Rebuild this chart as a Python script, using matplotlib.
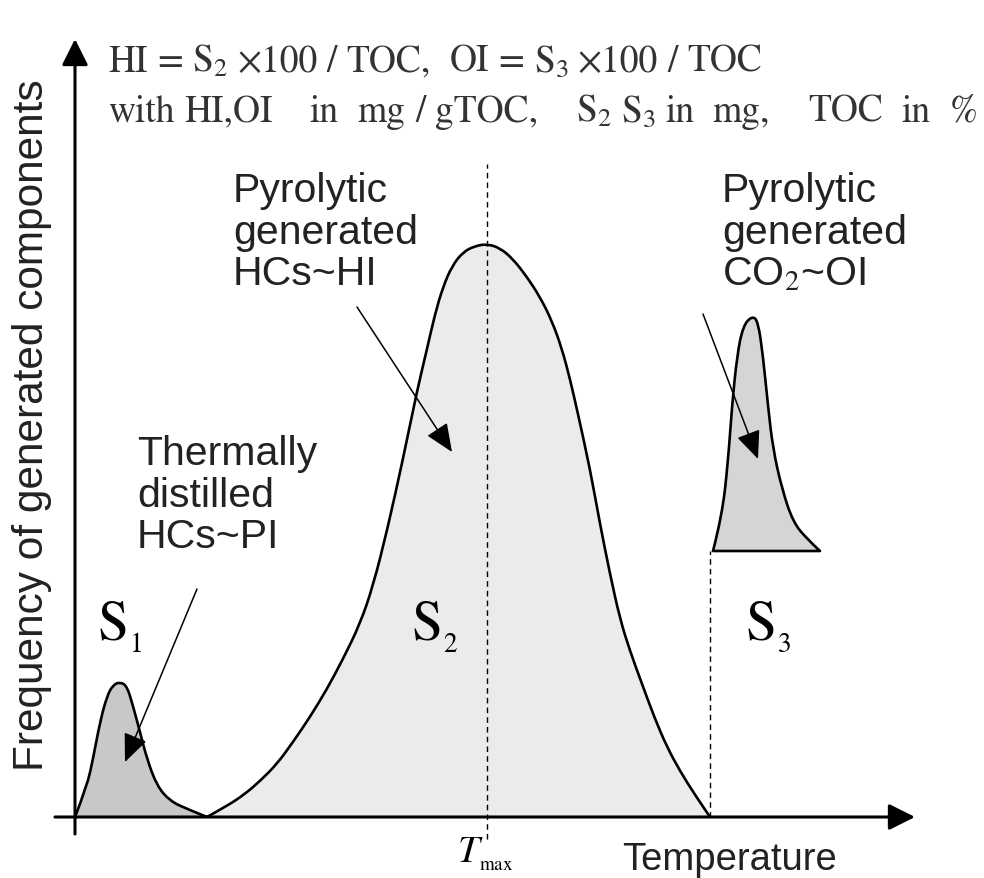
import matplotlib
matplotlib.use("Agg")
import matplotlib.pyplot as plt
from matplotlib.path import Path
from matplotlib.patches import PathPatch

plt.rcParams["mathtext.fontset"] = "stix"

# S1 peak (thermally distilled HCs)
s1_temp = [0, 12, 18, 25, 32, 38, 45, 52, 58, 65, 72, 82, 95, 112, 132]
s1_freq = [0, 31, 58, 95, 121, 132, 135, 131, 111, 85, 58, 31, 16, 8, 0]

# S2 peak (pyrolytic HCs)
s2_temp = [132, 152, 170, 185, 202, 218, 235, 252, 268, 285, 298, 312, 328, 342, 352, 360,
           368, 377, 388, 400, 412, 425, 438, 452, 465, 477, 487, 495, 503, 515, 525, 535,
           545, 555, 567, 580, 592, 605, 620, 635]
s2_freq = [0, 11, 23, 36, 53, 75, 100, 128, 158, 193, 231, 286, 358, 426, 468, 503,
           530, 551, 565, 571, 573, 569, 558, 540, 520, 496, 468, 438, 403, 348, 293, 243,
           198, 166, 133, 98, 70, 46, 22, 0]

# S3 peak (pyrolytic CO2), drawn on a raised baseline
s3_temp = [638, 647, 653, 657, 662, 668, 677, 683, 688, 693, 698, 707, 718, 732, 745]
s3_freq = [266, 301, 355, 411, 461, 491, 501, 496, 461, 411, 368, 328, 295, 278, 266]
s3_base = 266

tmax = 412

# formula lines: word and number of spaces after it
line1 = [("HI", 1), ("=", 1), ("S$_2$", 1), ("×100", 1), ("/", 1), ("TOC,", 2),
         ("OI", 1), ("=", 1), ("S$_3$", 1), ("×100", 1), ("/", 1), ("TOC", 0)]
line2 = [("with", 1), ("HI,OI", 4), ("in", 2), ("mg", 1), ("/", 1), ("gTOC,", 4),
         ("S$_2$", 1), ("S$_3$", 1), ("in", 2), ("mg,", 4), ("TOC", 2), ("in", 2), ("%", 0)]


def smooth_path(xs, ys, base=None):
    # quadratic B-spline through the points, optionally closed on a baseline
    pts = list(zip(xs, ys))
    verts = [pts[0]]
    codes = [Path.MOVETO]
    for i in range(1, len(pts) - 1):
        mid = ((pts[i][0] + pts[i + 1][0]) / 2, (pts[i][1] + pts[i + 1][1]) / 2)
        if i == len(pts) - 2:
            mid = pts[-1]
        verts += [pts[i], mid]
        codes += [Path.CURVE3, Path.CURVE3]
    if base is not None:
        verts += [(xs[-1], base), (xs[0], base), pts[0]]
        codes += [Path.LINETO, Path.LINETO, Path.CLOSEPOLY]
    return Path(verts, codes)


fig = plt.figure(figsize=(9.84, 8.79), dpi=100)
ax = fig.add_axes([0, 0, 1, 1])
ax.set_xlim(-75, 909)
ax.set_ylim(-61, 818)
ax.axis("off")

ax.add_patch(PathPatch(smooth_path(s1_temp, s1_freq, 0), fc="#c8c8c8", lw=0))
ax.add_patch(PathPatch(smooth_path(s2_temp, s2_freq, 0), fc="#ebebeb", lw=0))
ax.add_patch(PathPatch(smooth_path(s3_temp, s3_freq, s3_base), fc="#d5d5d5", ec="black",
                       lw=1.9, joinstyle="round"))

ax.add_patch(PathPatch(smooth_path(s1_temp, s1_freq), fc="none", ec="black", lw=1.9))
ax.add_patch(PathPatch(smooth_path(s2_temp, s2_freq), fc="none", ec="black", lw=1.9))

# dashed guide lines
ax.plot([tmax, tmax], [-22, 653], color="black", lw=1, ls=(0, (4, 3)))
ax.plot([s3_temp[0] - 3, s3_temp[0] - 3], [0, s3_base], color="black", lw=1, ls=(0, (4, 3)))

# axes with arrows
axis_arrow = dict(arrowstyle="-|>,head_length=0.8,head_width=0.4", lw=2.2,
                  color="black", mutation_scale=20, shrinkA=0, shrinkB=0)
ax.annotate("", xy=(0, 778), xytext=(0, -17), arrowprops=axis_arrow)
ax.annotate("", xy=(840, 0), xytext=(-20, 0), arrowprops=axis_arrow)

# pointer arrows
pointer = dict(arrowstyle="-|>,head_length=0.7,head_width=0.3", lw=1.1,
               color="black", mutation_scale=25, shrinkA=0, shrinkB=0)
ax.annotate("", xy=(50, 55), xytext=(122, 228), arrowprops=pointer)
ax.annotate("", xy=(377, 365), xytext=(282, 510), arrowprops=pointer)
ax.annotate("", xy=(683, 358), xytext=(628, 503), arrowprops=pointer)

sans = "Liberation Sans"
lab_kw = dict(family=sans, fontsize=29.5, ha="left", va="top", linespacing=1.12,
              color="#222222")
ax.text(158, 646, "Pyrolytic\ngenerated\nHCs~HI", **lab_kw)
ax.text(647, 646, "Pyrolytic\ngenerated\nCO$_2$~OI", **lab_kw)
ax.text(62, 383, "Thermally\ndistilled\nHCs~PI", **lab_kw)

for t, lab in [(45, r"$\mathrm{S}_{_1}$"), (360, r"$\mathrm{S}_{_2}$"), (693, r"$\mathrm{S}_{_3}$")]:
    ax.text(t, 191, lab, fontsize=40, ha="center", va="center")

# formula lines, laid out word by word
renderer = fig.canvas.get_renderer()
space_px = 0.25 * 27 * 100 / 72
for words, f in [(line1, 746), (line2, 696)]:
    x_px = ax.transData.transform((33, f))[0]
    for word, gap in words:
        t = ax.transData.inverted().transform((x_px, 0))[0]
        txt = ax.text(t, f, word, family="STIXGeneral", fontsize=27, ha="left",
                      va="baseline", color="#333333")
        x_px = txt.get_window_extent(renderer).x1 + gap * space_px

ax.text(547, -52, "Temperature", family=sans, fontsize=27.5, ha="left", va="baseline",
        color="#222222")
ax.text(382, -44, r"$T_{_{\mathrm{max}}}$", fontsize=28, ha="left", va="baseline")
ax.text(-43, 393, "Frequency of generated components", family=sans, fontsize=30.5,
        rotation=90, ha="center", va="center", color="#222222")

fig.savefig("out.png", dpi=100)
